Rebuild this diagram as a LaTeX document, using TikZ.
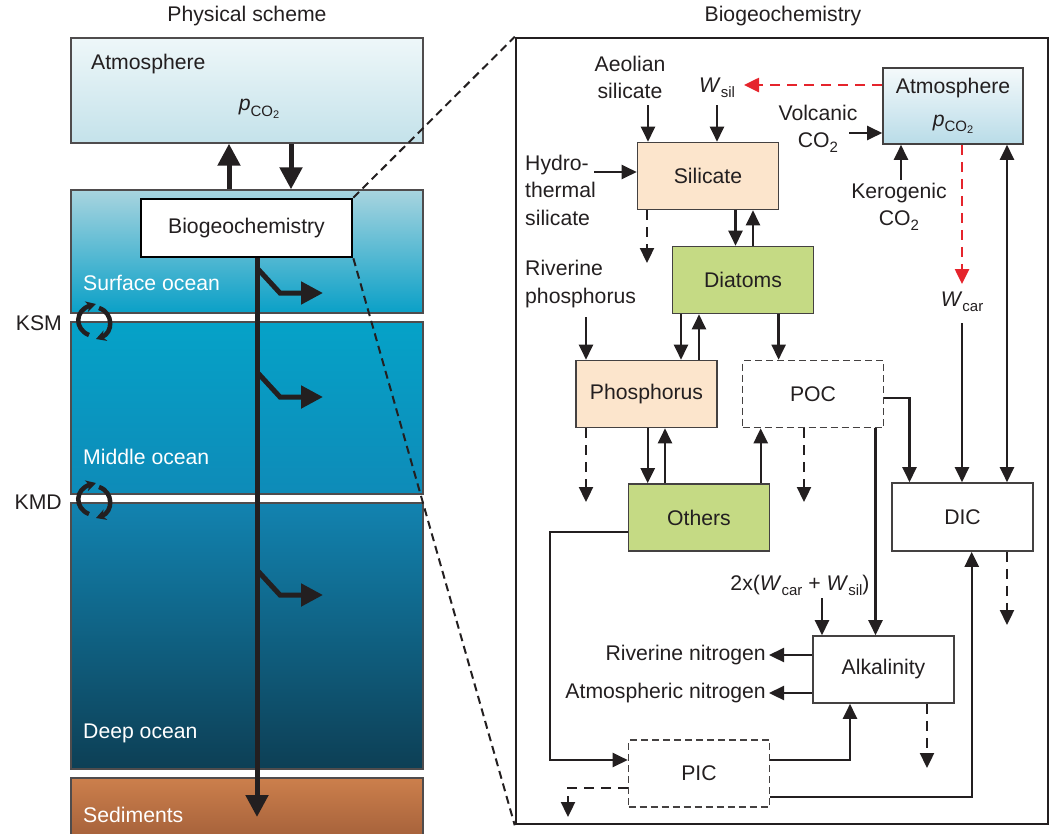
\documentclass[tikz,border=0pt]{standalone}
\usepackage{fontspec}
\setmainfont{Liberation Sans}
\usetikzlibrary{arrows.meta}
\definecolor{ink}{HTML}{231F20}
\definecolor{atmtop}{HTML}{EEF7F9}
\definecolor{atmbot}{HTML}{C4E2EA}
\definecolor{surftop}{HTML}{A8D4DF}
\definecolor{surfbot}{HTML}{0AA0C7}
\definecolor{midtop}{HTML}{05A2C8}
\definecolor{midbot}{HTML}{0E8BB8}
\definecolor{deeptop}{HTML}{1283B0}
\definecolor{deepbot}{HTML}{0D3F55}
\definecolor{sedtop}{HTML}{CC7F4C}
\definecolor{sedbot}{HTML}{A4603A}
\definecolor{boxtop}{HTML}{F4F9FB}
\definecolor{boxbot}{HTML}{B9DCE8}
\definecolor{silfill}{HTML}{FCE5CC}
\definecolor{algfill}{HTML}{C5DA84}
\definecolor{fluxred}{HTML}{E5242C}
\newcommand{\lowtxt}[1]{\raisebox{-0.45ex}{\fontsize{15}{15}\selectfont #1}}
\newcommand{\lowertxt}[1]{\raisebox{-0.3ex}{\fontsize{11}{11}\selectfont #1}}
\newcommand{\pcotwo}{\textit{p}\lowtxt{CO\lowertxt{2}}}
\newcommand{\cotwo}{CO\lowtxt{2}}
\newcommand{\wflux}[1]{\textit{W}\lowtxt{#1}}
\tikzset{
  layer/.style={draw=ink!80, line width=1.4pt, inner sep=0pt, minimum width=352pt},
  pool/.style={draw=ink!85, line width=1.6pt, inner sep=0pt, minimum width=141pt, minimum height=67pt, text=ink},
  ghost/.style={pool, dash pattern=on 7pt off 4pt},
  lbl/.style={inner sep=0pt, text=ink},
  arr/.style={draw=ink, line width=2.3pt, -{Triangle[length=15pt,width=14pt]}},
  dblarr/.style={draw=ink, line width=2.3pt, {Triangle[length=15pt,width=14pt]}-{Triangle[length=15pt,width=14pt]}},
  dasharr/.style={arr, dash pattern=on 10pt off 7pt},
  redarr/.style={dasharr, draw=fluxred, line width=2.6pt},
  fat/.style={draw=ink, line width=5pt, -{Triangle[length=22pt,width=22pt]}},
  swirl/.style={draw=ink, line width=4.5pt, -{Stealth[length=10pt,width=11pt]}},
  zoomline/.style={draw=ink, line width=2pt, dash pattern=on 8pt off 5pt}
}
\begin{document}
\begin{tikzpicture}[x=1pt,y=-1pt,font=\fontsize{21.2}{27.5}\selectfont]
\useasboundingbox (0,0) rectangle (1052,833);

\node[lbl] (phystitle) at (247,16) {Physical scheme};
\node[lbl] (biotitle) at (783,16) {Biogeochemistry};

% physical scheme
\node[layer, minimum height=105pt, top color=atmtop, bottom color=atmbot] (atm) at (247,90.5) {};
\node[layer, minimum height=123pt, top color=surftop, bottom color=surfbot] (surf) at (247,251.5) {};
\node[layer, minimum height=172pt, top color=midtop, bottom color=midbot] (mid) at (247,408) {};
\node[layer, minimum height=266pt, top color=deeptop, bottom color=deepbot] (deep) at (247,636) {};
\node[layer, minimum height=62pt, top color=sedtop, bottom color=sedbot] (sed) at (247,809) {};

\node[lbl, anchor=west] (atmname) at (91,64) {Atmosphere};
\node[lbl] (atmp) at (259,109) {\pcotwo};
\node[lbl, anchor=west, text=white] (surfname) at (83,283) {Surface ocean};
\node[lbl, anchor=west, text=white] (midname) at (83,457) {Middle ocean};
\node[lbl, anchor=west, text=white] (deepname) at (83,733) {Deep ocean};
\node[lbl, anchor=west, text=white] (sedname) at (83,815) {Sediments};

\draw[fat] ([xshift=-18pt]surf.north) -- ([xshift=-18pt]atm.south);
\draw[fat] ([xshift=44pt]atm.south) -- ([xshift=44pt]surf.north);

\coordinate (sink) at (257,817);
\draw[fat] (257,250) -- (sink);
\foreach \yy in {268,372,570}
  \draw[fat] (257,\yy) -- ++(23,25) -- ++(43,0);

\node[draw=black, line width=2.7pt, fill=white, inner sep=0pt, minimum width=211pt, minimum height=58pt, text=ink] (bio) at (246.5,228) {Biogeochemistry};

\foreach \yy/\gap in {323/KSM, 502/KMD} {
  \node[lbl, anchor=east] (\gap) at (62,\yy) {\gap};
  \draw[swirl] (89,\yy+12) .. controls (74,\yy+6) and (75,\yy-13) .. (96,\yy-19);
  \draw[swirl] (99,\yy-15) .. controls (114,\yy-10) and (113,\yy+10) .. (96,\yy+16);
}

% biogeochemistry
\node[draw=ink, line width=2.5pt, inner sep=0pt, minimum width=532pt, minimum height=786pt] (panel) at (782,431) {};
\draw[zoomline] (bio.north east) -- (panel.north west);
\draw[zoomline] (bio.south east) -- (panel.south west);

\node[pool, top color=boxtop, bottom color=boxbot, minimum width=140pt, minimum height=76pt, align=center] (atmR) at (953,106) {Atmosphere\\[5pt]\pcotwo};
\node[pool, fill=silfill] (sil) at (708,176) {Silicate};
\node[pool, fill=algfill] (dia) at (743,280) {Diatoms};
\node[pool, fill=silfill] (phos) at (646.5,394) {Phosphorus};
\node[ghost] (poc) at (813,394) {POC};
\node[pool, fill=algfill] (oth) at (699,517.5) {Others};
\node[pool, minimum height=68pt] (dic) at (962.5,517) {DIC};
\node[pool] (alk) at (883.5,669.5) {Alkalinity};
\node[ghost] (pic) at (699,773.5) {PIC};

\node[lbl, align=center] (aeol) at (630,77.5) {Aeolian\\silicate};
\node[lbl] (wsil) at (717,88) {\wflux{sil}};
\node[lbl, align=left, anchor=west] (hydro) at (525,190) {Hydro-\\thermal\\silicate};
\node[lbl, align=center] (volc) at (818,129) {Volcanic\\\cotwo};
\node[lbl, align=center] (kero) at (899,207) {Kerogenic\\\cotwo};
\node[lbl, align=left, anchor=west] (rivp) at (525,284) {Riverine\\phosphorus};
\node[lbl] (wcar) at (962,302) {\wflux{car}};
\node[lbl] (twox) at (800,585) {2x(\wflux{car} + \wflux{sil})};
\node[lbl, anchor=east] (rivn) at (766,655) {Riverine nitrogen};
\node[lbl, anchor=east] (atmn) at (766,693) {Atmospheric nitrogen};

\coordinate (aeolout) at (648,105);
\coordinate (wsilout) at (717,105);
\coordinate (volcout) at (849,133);
\coordinate (keroout) at (901,180);
\coordinate (hydroout) at (594,172);
\coordinate (rivpout) at (586,317);
\coordinate (wcarout) at (962,323);
\coordinate (twoxout) at (822,598);
\coordinate (wsiltip) at (744,85);
\coordinate (wcartip) at (962,284);
\coordinate (silsink) at (647,263);
\coordinate (phossink) at (586,502);
\coordinate (pocsink) at (804,502);
\coordinate (dicsink) at (1007,625);
\coordinate (alksink) at (927,768);
\coordinate (picsink) at (568,817);

\draw[arr] (aeolout) -- (aeolout |- sil.north);
\draw[arr] (wsilout) -- (wsilout |- sil.north);
\draw[arr] (hydroout) -- (hydroout -| sil.west);
\draw[arr] (volcout) -- (volcout -| atmR.west);
\draw[arr] (keroout) -- (keroout |- atmR.south);
\draw[redarr] (wsiltip -| atmR.west) -- (wsiltip);
\draw[redarr] (wcartip |- atmR.south) -- (wcartip);
\draw[arr] (wcarout) -- (wcarout |- dic.north);
\coordinate (exch) at ([xshift=54pt]atmR.south);
\draw[dblarr] (exch) -- (exch |- dic.north);

\coordinate (sd1) at ([xshift=-7.5pt]dia.north);
\coordinate (sd2) at ([xshift=10pt]dia.north);
\draw[arr] (sd1 |- sil.south) -- (sd1);
\draw[arr] (sd2) -- (sd2 |- sil.south);
\draw[dasharr] (silsink |- sil.south) -- (silsink);

\coordinate (dp1) at ([xshift=34.5pt]phos.north);
\coordinate (dp2) at ([xshift=52.5pt]phos.north);
\coordinate (dpoc) at ([xshift=-34.4pt]poc.north);
\draw[arr] (dp1 |- dia.south) -- (dp1);
\draw[arr] (dp2) -- (dp2 |- dia.south);
\draw[arr] (dpoc |- dia.south) -- (dpoc);
\draw[arr] (rivpout) -- (rivpout |- phos.north);
\draw[dasharr] (phossink |- phos.south) -- (phossink);

\coordinate (po1) at ([xshift=-51.3pt]oth.north);
\coordinate (po2) at ([xshift=-34pt]oth.north);
\coordinate (opoc) at ([xshift=61.7pt]oth.north);
\draw[arr] (po1 |- phos.south) -- (po1);
\draw[arr] (po2) -- (po2 |- phos.south);
\draw[arr] (opoc) -- (opoc |- poc.south);
\draw[dasharr] (pocsink |- poc.south) -- (pocsink);

\coordinate (pa) at ([xshift=62.5pt]poc.south);
\draw[arr] ([yshift=-4.3pt]poc.east) -| ([xshift=-53pt]dic.north);
\draw[arr] (pa) -- (pa |- alk.north);
\draw[arr] (twoxout) -- (twoxout |- alk.north);
\draw[arr] (alk.west |- rivn) -- ([xshift=3pt]rivn.east);
\draw[arr] (alk.west |- atmn) -- ([xshift=3pt]atmn.east);
\draw[dasharr] (alksink |- alk.south) -- (alksink);
\draw[dasharr] (dicsink |- dic.south) -- (dicsink);

\draw[arr] ([yshift=-14.2pt]oth.west) -| ([xshift=-77.8pt,yshift=13.5pt]pic.west) -- ([yshift=13.5pt]pic.west);
\draw[dasharr] ([yshift=-14.5pt]pic.west) -| (picsink);
\draw[arr] ([yshift=13.5pt]pic.east) -| ([xshift=-33.5pt]alk.south);
\draw[arr] ([yshift=-23.5pt]pic.east) -| ([xshift=9.2pt]dic.south);
\end{tikzpicture}
\end{document}
